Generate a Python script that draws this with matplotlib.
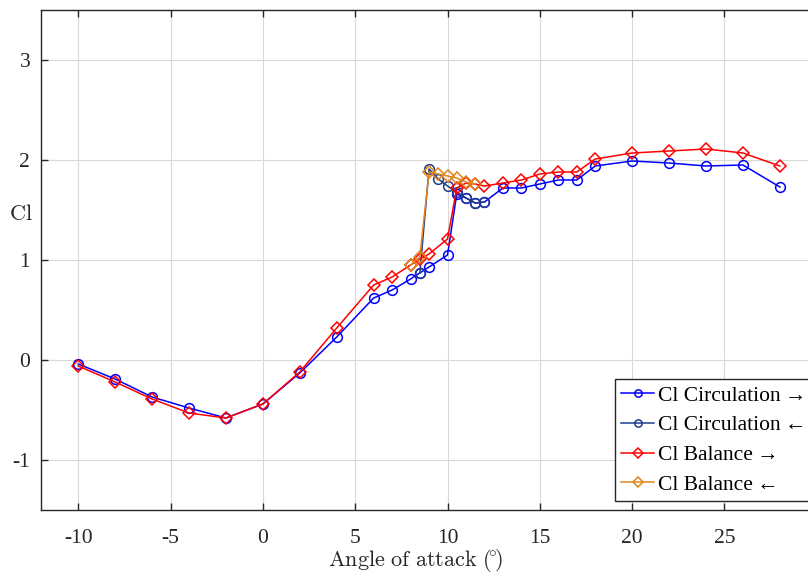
import matplotlib
matplotlib.use("Agg")
import matplotlib.pyplot as plt

plt.rcParams['font.family'] = ['Liberation Serif', 'DejaVu Serif']
plt.rcParams['mathtext.fontset'] = 'cm'

# Data
aoa_circ_fwd = [-10, -8, -6, -4, -2, 0, 2, 4, 6, 7, 8, 8.5, 9, 10, 10.5, 11, 11.5, 12,
                13, 14, 15, 16, 17, 18, 20, 22, 24, 26, 28]
cl_circ_fwd = [-0.04, -0.19, -0.37, -0.48, -0.58, -0.44, -0.13, 0.23, 0.62, 0.70, 0.81, 0.87,
               0.93, 1.05, 1.66, 1.62, 1.57, 1.58, 1.72, 1.72, 1.76, 1.80, 1.80, 1.94, 1.99,
               1.97, 1.94, 1.95, 1.73]

aoa_circ_bwd = [12, 11.5, 11, 10.5, 10, 9.5, 9, 8.5]
cl_circ_bwd = [1.58, 1.57, 1.62, 1.68, 1.74, 1.81, 1.91, 0.87]

aoa_bal_fwd = [-10, -8, -6, -4, -2, 0, 2, 4, 6, 7, 8, 8.5, 9, 10, 10.5, 11, 11.5, 12,
               13, 14, 15, 16, 17, 18, 20, 22, 24, 26, 28]
cl_bal_fwd = [-0.06, -0.22, -0.39, -0.53, -0.58, -0.44, -0.12, 0.32, 0.75, 0.83, 0.95, 1.01,
              1.06, 1.21, 1.72, 1.77, 1.76, 1.74, 1.77, 1.80, 1.86, 1.88, 1.88, 2.01, 2.07,
              2.09, 2.11, 2.07, 1.94]

aoa_bal_bwd = [11.5, 11, 10.5, 10, 9.5, 9, 8.5, 8]
cl_bal_bwd = [1.76, 1.78, 1.82, 1.84, 1.86, 1.88, 1.03, 0.95]

labels = ['Cl Circulation\u2009\u2192', 'Cl Circulation\u2009\u2190',
          'Cl Balance\u2009\u2192', 'Cl Balance\u2009\u2190']
xticks = [-10, -5, 0, 5, 10, 15, 20, 25]
yticks = [-1, 0, 1, 2, 3]

fig = plt.figure(figsize=(8.08, 5.77), dpi=100)
ax = fig.add_axes([41.3 / 808, 1 - 510 / 577, 775.5 / 808, 500 / 577])

ms = 7
lw = 1.1
ax.plot(aoa_circ_fwd, cl_circ_fwd, '-o', color='#0000ff', mfc='none', ms=ms, lw=lw, mew=1.1, label=labels[0])
ax.plot(aoa_circ_bwd, cl_circ_bwd, '-o', color='#1f3a8c', mfc='none', ms=ms, lw=lw, mew=1.1, label=labels[1])
ax.plot(aoa_bal_fwd, cl_bal_fwd, '-D', color='#ff0000', mfc='none', ms=6.6, lw=lw, mew=1.1, label=labels[2])
ax.plot(aoa_bal_bwd, cl_bal_bwd, '-D', color='#e0861a', mfc='none', ms=6.6, lw=lw, mew=1.1, label=labels[3])

ax.set_xlim(-12, 30)
ax.set_ylim(-1.5, 3.5)
ax.set_xticks(xticks)
ax.set_yticks(yticks)
ax.set_xticklabels([str(t) for t in xticks])
ax.set_yticklabels([str(t) for t in yticks])
ax.grid(True, color='#d9d9d9', lw=0.8)
ax.set_axisbelow(True)
for s in ax.spines.values():
    s.set_color('#262626')
    s.set_linewidth(1.0)
ax.tick_params(direction='in', length=5, width=1.0, colors='#262626', labelcolor='#262626',
               labelsize=15.5, top=True, right=True)
ax.tick_params(axis='x', pad=14)
ax.tick_params(axis='y', pad=8)

ax.set_xlabel(r'$\mathrm{Angle\ of\ attack\ (\!{}^{\circ}\!)}$', fontsize=16, color='#262626')
ax.xaxis.set_label_coords(0.483, -0.074)
ax.set_ylabel(r'$\mathrm{Cl}$', fontsize=16, rotation=0, color='#262626', ha='center', va='center')
ax.yaxis.set_label_coords(-0.026, 0.59)

leg = fig.legend(loc='upper left', bbox_to_anchor=(615 / 808, 1 - 379 / 577), fontsize=15.5,
                 frameon=True, fancybox=False, framealpha=1, edgecolor='#262626',
                 handlelength=1.5, handletextpad=0.2, labelspacing=0.45, borderpad=0.3,
                 borderaxespad=0, markerscale=0.75)
leg.get_frame().set_linewidth(1.0)

fig.savefig('out.png', dpi=100)
